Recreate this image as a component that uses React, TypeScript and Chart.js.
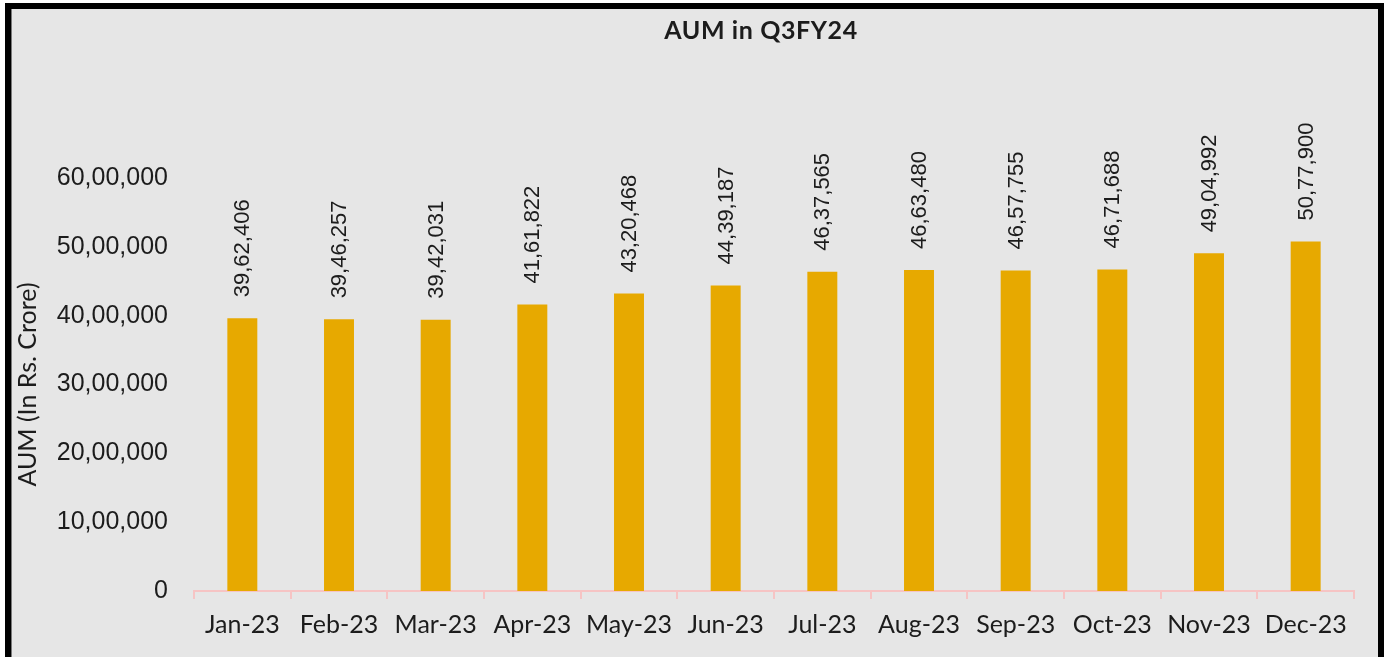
import React, { useEffect, useRef } from "react";
import { Chart, registerables } from "chart.js";

Chart.register(...registerables);

const categories = ["Jan-23", "Feb-23", "Mar-23", "Apr-23", "May-23", "Jun-23", "Jul-23", "Aug-23", "Sep-23", "Oct-23", "Nov-23", "Dec-23"];
const aumValues = [3962406, 3946257, 3942031, 4161822, 4320468, 4439187, 4637565, 4663480, 4657755, 4671688, 4904992, 5077900];
const chartTitle = "AUM in Q3FY24";
const yAxisTitle = "AUM (In Rs. Crore)";
const yMax = 6000000;
const yStep = 1000000;

function fmtIN(n: number): string {
  const s = Math.round(n).toString();
  if (s.length <= 3) return s;
  const last3 = s.slice(-3);
  const rest = s.slice(0, -3).replace(/\B(?=(\d{2})+(?!\d))/g, ",");
  return rest + "," + last3;
}

const TEXT = "#1c1c1c";
const BAR = "#E7A900";
const PINK = "#f6c4c4";

const labelPlugin = {
  id: "barLabels",
  afterDatasetsDraw(chart: any) {
    const ctx = chart.ctx;
    const meta = chart.getDatasetMeta(0);
    ctx.save();
    ctx.fillStyle = TEXT;
    ctx.font = "22px 'Liberation Sans', Arial, sans-serif";
    ctx.textAlign = "left";
    ctx.textBaseline = "middle";
    meta.data.forEach((el: any, i: number) => {
      ctx.save();
      ctx.translate(el.x, el.y - 21);
      ctx.rotate(-Math.PI / 2);
      ctx.fillText(fmtIN(aumValues[i]), 0, 1);
      ctx.restore();
    });
    ctx.restore();
  },
};

const titlePlugin = {
  id: "customTitle",
  afterDraw(chart: any) {
    const ctx = chart.ctx;
    ctx.save();
    ctx.fillStyle = TEXT;
    ctx.font = "bold 25px Lato, sans-serif";
    (ctx as any).letterSpacing = "0.6px";
    ctx.textAlign = "center";
    ctx.textBaseline = "alphabetic";
    ctx.fillText(chartTitle, 750, 30);
    ctx.restore();
  },
};

export default function App() {
  const ref = useRef<HTMLCanvasElement | null>(null);
  useEffect(() => {
    if (!ref.current) return;
    const chart = new Chart(ref.current, {
      type: "bar",
      data: {
        labels: categories,
        datasets: [
          {
            data: aumValues,
            backgroundColor: BAR,
            borderWidth: 0,
            barPercentage: 0.31,
            categoryPercentage: 1,
          },
        ],
      },
      options: {
        animation: false,
        responsive: false,
        maintainAspectRatio: false,
        devicePixelRatio: 1,
        layout: { padding: { top: 169, right: 24, bottom: 6, left: 0 } },
        plugins: {
          legend: { display: false },
          title: { display: false },
          tooltip: { enabled: false },
        },
        scales: {
          x: {
            grid: {
              display: true,
              drawOnChartArea: false,
              drawTicks: true,
              tickLength: 8,
              color: PINK,
              lineWidth: 2,
            },
            border: { display: true, color: PINK, width: 2 },
            ticks: {
              color: TEXT,
              font: { family: "Lato, sans-serif", size: 25 },
              padding: 11,
              maxRotation: 0,
              autoSkip: false,
            },
          },
          y: {
            min: 0,
            max: yMax,
            grid: { display: false, drawTicks: false },
            border: { display: false },
            ticks: {
              stepSize: yStep,
              color: TEXT,
              font: { family: "'Liberation Sans', Arial, sans-serif", size: 25 },
              padding: 26,
              callback: (v: any) => fmtIN(Number(v)),
            },
            title: {
              display: true,
              text: yAxisTitle,
              color: TEXT,
              font: { family: "Lato, sans-serif", size: 25 },
              padding: { top: 2, bottom: 0 },
            },
            afterFit: (scale: any) => {
              scale.width = 183;
            },
          },
        },
      },
      plugins: [labelPlugin, titlePlugin],
    });
    return () => chart.destroy();
  }, []);

  return (
    <div style={{ position: "fixed", left: 0, top: 0, width: 1388, height: 657, background: "#fff", overflow: "hidden" }}>
      <div
        style={{
          position: "absolute",
          left: 5,
          top: 3,
          width: 1367,
          height: 700,
          border: "6px solid #000",
          background: "#e6e6e6",
          boxShadow: "inset 1px 0 0 #7a7a7a",
        }}
      >
        <canvas ref={ref} width={1367} height={648} style={{ display: "block", width: 1367, height: 648 }} />
      </div>
    </div>
  );
}
